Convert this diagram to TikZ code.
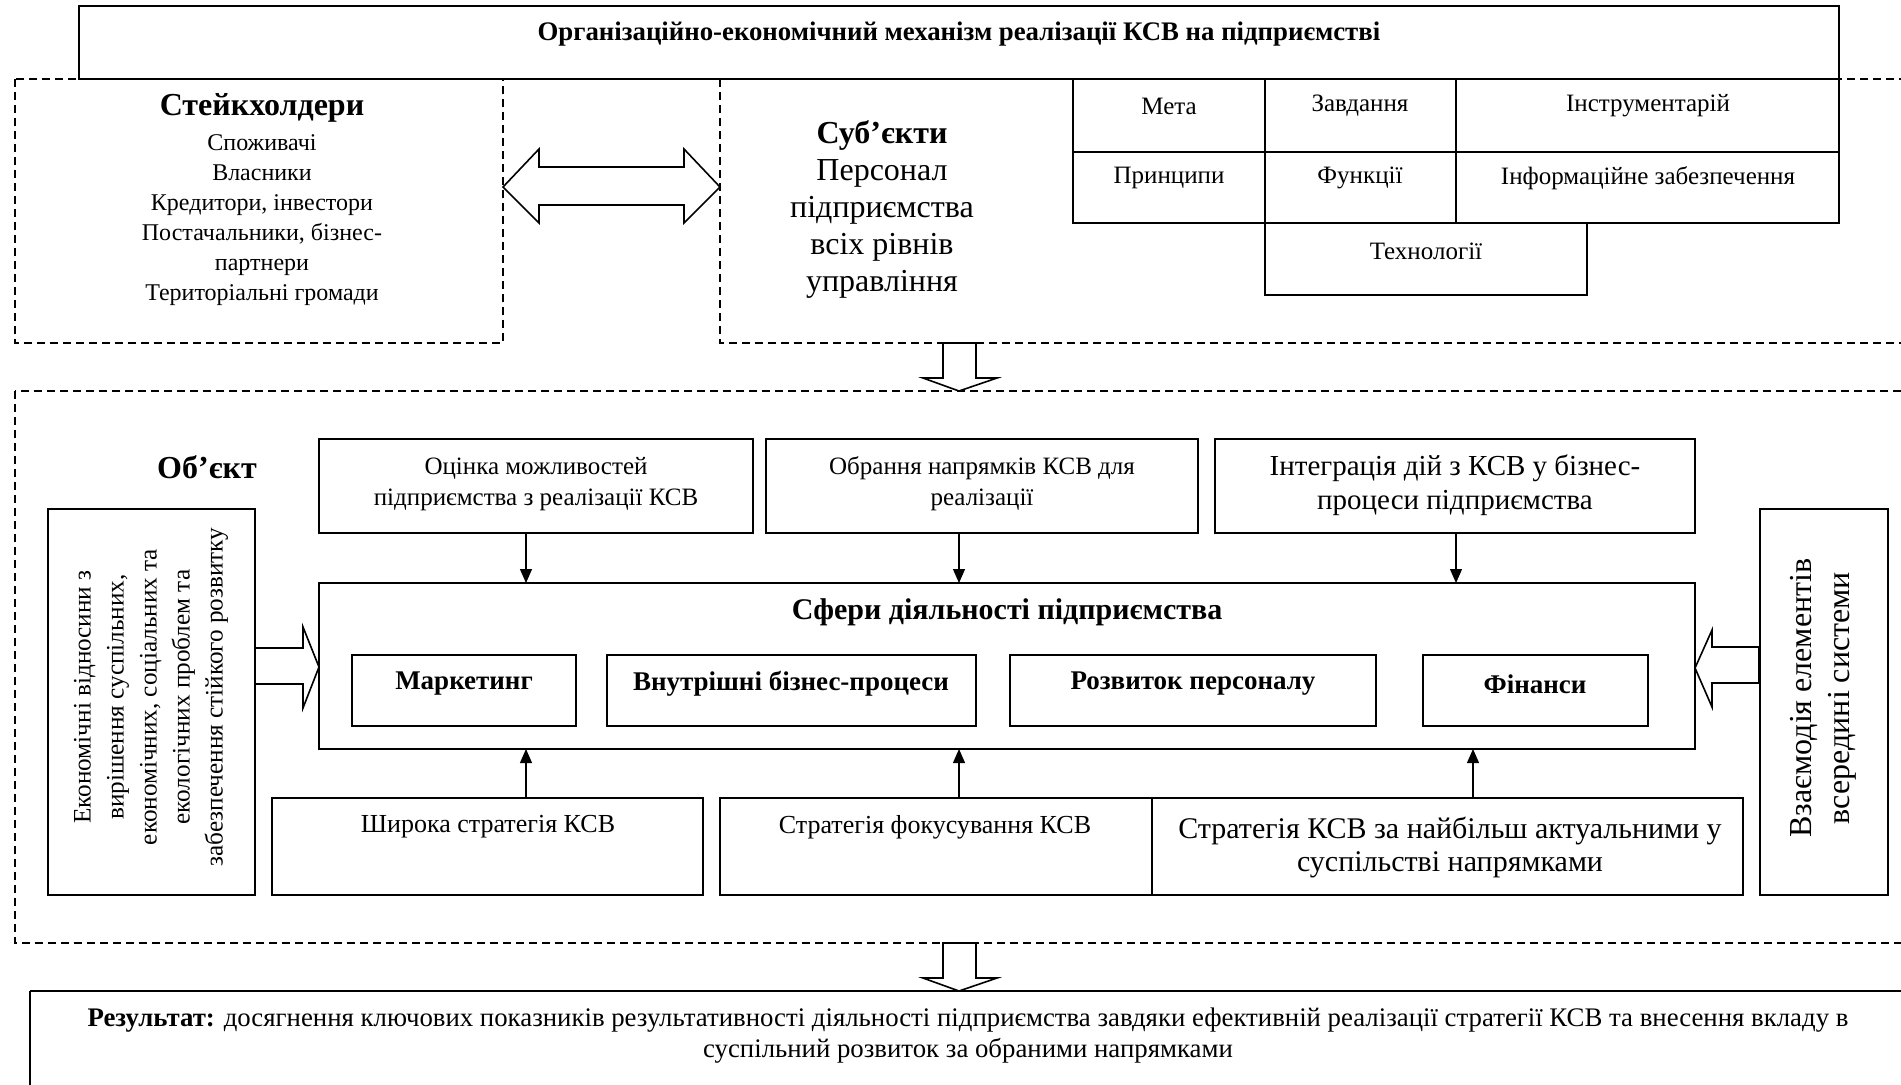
\documentclass[tikz,border=0pt]{standalone}
\usepackage{fontspec}
\setmainfont{Liberation Serif}
\usetikzlibrary{arrows.meta}

\newcommand\fs[2]{\fontsize{#1}{#2}\selectfont}
% \mkbox[style]{name}{x1}{y1}{x2}{y2}: rectangle node between two corners
\newcommand\mkbox[6][]{%
  \pgfmathsetmacro\bw{(#5-#3)/2}%
  \pgfmathsetmacro\bh{(#6-#4)/2}%
  \node[box,#1,minimum width=\bw pt,minimum height=\bh pt] (#2) at ({(#3+#5)/2},{(#4+#6)/2}) {};}

\tikzset{
  box/.style={draw, line width=0.8pt, fill=white, inner sep=0pt, outer sep=0pt},
  dbox/.style={draw, line width=0.7pt, dash pattern=on 4pt off 2.5pt},
  txt/.style={align=center, inner sep=0pt},
  arr/.style={-{Triangle[length=7pt,width=6pt]}, line width=0.6pt},
  blockarrow/.style={draw, line width=0.8pt, fill=white, line join=miter},
}

\begin{document}
\begin{tikzpicture}[x=0.5pt,y=-0.5pt]
\useasboundingbox (0,0) rectangle (1901,1084);
\clip (0,0) rectangle (1901,1084);
\fill[white] (0,0) rectangle (1901,1084);

% dashed frames
\draw[dbox] (15,79) rectangle (503,343);
\draw[dbox] (720,79) rectangle (1940,343);
\draw[dbox] (15,391) rectangle (1940,943);

% title
\mkbox{title}{79}{6}{1839}{79}
\node[txt, font=\fs{13.4}{15}\bfseries] (titletext) at (959,34) {Організаційно-економічний механізм реалізації КСВ на підприємстві};

% stakeholders
\node[txt, font=\fs{16}{18}\bfseries] (sthead) at (262,108) {Стейкхолдери};
\node[txt, font=\fs{12}{15}] (stlist) at (262,220) {Споживачі\\Власники\\Кредитори, інвестори\\Постачальники, бізнес-\\партнери\\Територіальні громади};

% subjects
\node[txt, font=\fs{16}{18.5}\bfseries] (subhead) at (882,135) {Суб’єкти};
\node[txt, font=\fs{16}{18.5}] (sublist) at (882,229) {Персонал\\підприємства\\всіх рівнів\\управління};

% double arrow between stakeholders and subjects
\draw[blockarrow] (503,187) -- (539,149) -- (539,167) -- (684,167) -- (684,149) -- (720,187)
  -- (684,223) -- (684,205) -- (539,205) -- (539,223) -- cycle;

% mechanism elements
\mkbox{meta}{1073}{79}{1265}{152}
\mkbox{zavd}{1265}{79}{1456}{152}
\mkbox{instr}{1456}{79}{1839}{152}
\mkbox{princ}{1073}{152}{1265}{223}
\mkbox{funk}{1265}{152}{1456}{223}
\mkbox{inform}{1456}{152}{1839}{223}
\mkbox{tech}{1265}{223}{1587}{295}
\begin{scope}[every node/.style={txt, font=\fs{12.5}{15}}]
\node (metat) at (1169,106) {Мета};
\node (zavdt) at (1360,106) {Завдання};
\node (instrt) at (1648,106) {Інструментарій};
\node (princt) at (1169,178) {Принципи};
\node (funkt) at (1360,178) {Функції};
\node (informt) at (1648,178) {Інформаційне забезпечення};
\node (techt) at (1426,251) {Технології};
\end{scope}

% arrow from subjects to object
\draw[blockarrow] (943,343) -- (976,343) -- (976,378) -- (997,378) -- (959,391) -- (923,378) -- (943,378) -- cycle;

% object
\node[txt, font=\fs{16}{18}\bfseries] (objhead) at (207,467) {Об’єкт};

\mkbox{t1}{319}{439}{753}{533}
\mkbox{t2}{766}{439}{1198}{533}
\mkbox{t3}{1215}{439}{1695}{533}
\node[txt, font=\fs{12.5}{15.5}] (t1t) at (536,484) {Оцінка можливостей\\підприємства з реалізації КСВ};
\node[txt, font=\fs{12.5}{15.5}] (t2t) at (982,484) {Обрання напрямків КСВ для\\реалізації};
\node[txt, font=\fs{14.5}{17}] (t3t) at (1455,485) {Інтеграція дій з КСВ у бізнес-\\процеси підприємства};

\mkbox{sf}{319}{583}{1695}{749}
\node[txt, font=\fs{15}{18}\bfseries] (sft) at (1007,612) {Сфери діяльності підприємства};
\mkbox{s1}{352}{655}{576}{726}
\mkbox{s2}{607}{655}{976}{726}
\mkbox{s3}{1010}{655}{1376}{726}
\mkbox{s4}{1423}{655}{1648}{726}
\begin{scope}[every node/.style={txt, font=\fs{13.5}{16}\bfseries}]
\node (s1t) at (464,684) {Маркетинг};
\node (s2t) at (791,684) {Внутрішні бізнес-процеси};
\node (s3t) at (1193,684) {Розвиток персоналу};
\node (s4t) at (1535,684) {Фінанси};
\end{scope}

\mkbox{b1}{272}{798}{703}{895}
\mkbox{b2}{720}{798}{1152}{895}
\mkbox{b3}{1152}{798}{1743}{895}
\node[txt, font=\fs{13}{16}] (b1t) at (488,827) {Широка стратегія КСВ};
\node[txt, font=\fs{13}{16}] (b2t) at (935,827) {Стратегія фокусування КСВ};
\node[txt, font=\fs{15}{16.5}] (b3t) at (1450,847) {Стратегія КСВ за найбільш актуальними у\\суспільстві напрямками};

% vertical connectors
\coordinate (xa) at (526,0);
\coordinate (xb) at (959,0);
\coordinate (xc) at (1456,0);
\coordinate (xd) at (1473,0);
\draw[arr] (t1.south -| xa) -- (sf.north -| xa);
\draw[arr] (t2.south -| xb) -- (sf.north -| xb);
\draw[arr] (t3.south -| xc) -- (sf.north -| xc);
\draw[arr] (b1.north -| xa) -- (sf.south -| xa);
\draw[arr] (b2.north -| xb) -- (sf.south -| xb);
\draw[arr] (b3.north -| xd) -- (sf.south -| xd);

% side boxes with rotated text
\mkbox{lft}{48}{509}{255}{895}
\mkbox{rgt}{1760}{509}{1888}{895}
\node[txt, rotate=90, font=\fs{12.6}{16.5}] (lftt) at (151,697) {Економічні відносини з\\вирішення суспільних,\\економічних, соціальних та\\екологічних проблем та\\забезпечення стійкого розвитку};
\node[txt, rotate=90, font=\fs{16}{19}] (rgtt) at (1823,698) {Взаємодія елементів\\всередині системи};

% side block arrows
\draw[blockarrow] (255,648) -- (303,648) -- (303,627) -- (319,667) -- (303,708) -- (303,684) -- (255,684) -- cycle;
\draw[blockarrow] (1759,647) -- (1712,647) -- (1712,630) -- (1695,668) -- (1712,707) -- (1712,683) -- (1759,683) -- cycle;

% arrow from object to result
\draw[blockarrow] (943,943) -- (976,943) -- (976,978) -- (997,978) -- (959,991) -- (923,978) -- (943,978) -- cycle;

% result
\draw[line width=0.8pt] (30,1110) -- (30,991);
\draw[line width=1.3pt] (30,991) -- (1940,991);
\node[txt, font=\fs{13.4}{15.5}] (res) at (968,1036) {\textbf{Результат:} досягнення ключових показників результативності діяльності підприємства завдяки ефективній реалізації стратегії КСВ та внесення вкладу в\\суспільний розвиток за обраними напрямками};
\end{tikzpicture}
\end{document}
